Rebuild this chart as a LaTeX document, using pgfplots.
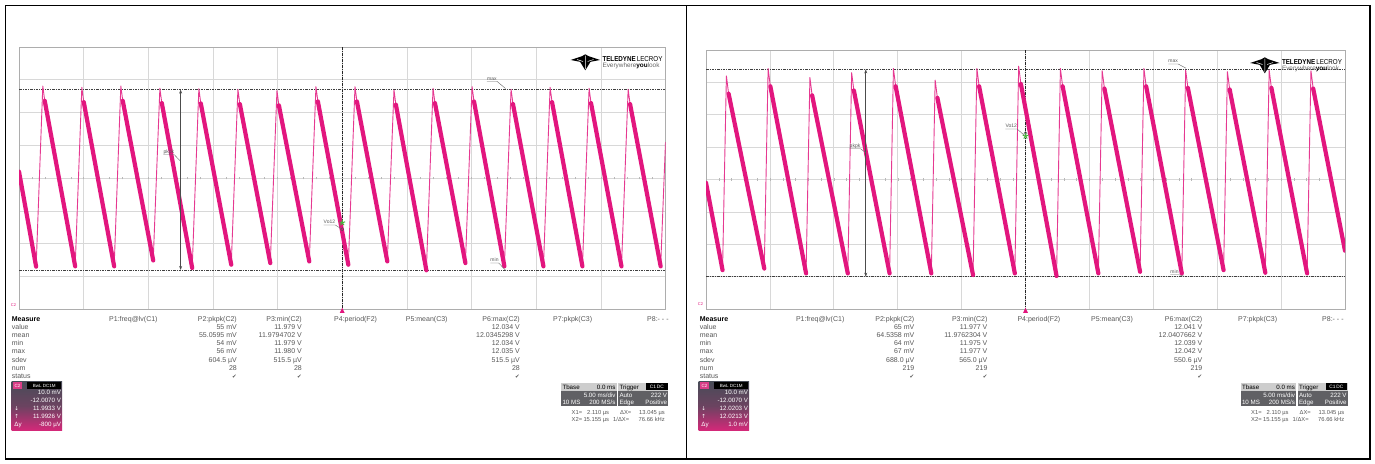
\documentclass[border=0pt]{standalone}
\usepackage{pgfplots}
\pgfplotsset{compat=1.18}
\usepackage{graphicx}
\usepackage{fontspec}
\setmainfont{Liberation Sans}
\newfontfamily\dejavu{DejaVu Sans}
\usetikzlibrary{arrows.meta}

\definecolor{tracepink}{RGB}{226,22,126}
\definecolor{gridgray}{RGB}{216,216,216}
\definecolor{txtgray}{RGB}{88,88,88}
\definecolor{c2dark}{RGB}{72,76,88}
\definecolor{c2pink}{RGB}{214,40,122}
\definecolor{boxlight}{RGB}{205,205,205}
\definecolor{boxdark}{RGB}{96,96,100}
\definecolor{starg}{RGB}{70,180,60}

\pgfplotsset{
  scopegrid/.style={
    scale only axis, xmin=0, xmax=10, ymin=11.967, ymax=12.047,
    xtick={0,1,2,3,4,5,6,7,8,9,10},
    ytick={11.967,11.977,11.987,11.997,12.007,12.017,12.027,12.037,12.047},
    xticklabels={}, yticklabels={},
    major tick length=0pt,
    grid=major,
    grid style={draw=gridgray, line width=0.7pt},
    axis line style={draw=gridgray!80!black, line width=0.8pt},
    unbounded coords=jump,
    clip=true,
  },
  thin trace/.style={tracepink!85!white, line width=0.9pt, line join=round},
  thick trace/.style={tracepink, line width=4.2pt, line join=round, line cap=round},
  levelline/.style={black!75, line width=0.7pt, dash pattern=on 2.5pt off 1.2pt on 0.6pt off 1.2pt},
}

\newcommand{\ck}{{\dejavu\fontsize{5.5}{5.5}\selectfont ✔}}
\newcommand{\mcol}[3]{\foreach \mtxt [count=\i from 0] in {#3}{\node[anchor=base #2, inner sep=0pt, text=txtgray] at (#1,{321.5+8.1*\i}) {\mtxt};}}
\newcommand{\hdr}[2]{\node[anchor=base west, inner sep=0pt, text=txtgray] at (#1,321.5) {#2};}
\newcommand{\ann}[5]{\node[inner sep=0pt, font=\fontsize{5}{5}\selectfont, text=black!65, anchor=base] (a) at (#1,#2) {#3};
  \draw[black!60, line width=0.4pt] ([yshift=-1.2pt]a.base west) -- ([yshift=-1.2pt]a.base east) -- (#4,#5);}
\newcommand{\logo}{%
  \fill[black] (570.7,60) -- (582,56.2) -- (585.3,54.3) -- (588.6,56.2) -- (600,60) -- (590.5,61.8) -- (585.3,70.3) -- (580.1,61.8) -- cycle;
  \draw[white, line width=0.5pt] (585.3,55.5) -- (585.3,69) (577,59.5)--(583,61.5) (593.6,59.5)--(587.6,61.5);
  \node[anchor=base west, inner sep=0pt] at (602.3,61) {\resizebox{60pt}{5pt}{\textbf{TELEDYNE}\,LECROY}};
  \node[anchor=base west, inner sep=0pt, text=black!60] at (602.3,67.2) {\resizebox{57pt}{!}{\fontsize{7}{7}\selectfont Everywhere\textbf{\color{black}you}look}};
}
\newcommand{\cbox}[6]{%
  \begin{scope}[shift={(#1,0)}]
  \shade[top color=c2dark, bottom color=c2pink, middle color=c2dark!75!c2pink] (0,381.3) rectangle (50.5,430.7);
  \fill[c2pink!90!white] (1,382.3) rectangle (10.5,388.6);
  \node[inner sep=0pt, text=white, font=\fontsize{4.5}{4.5}\selectfont] at (5.75,385.5) {C2};
  \fill[black] (15.5,382.3) rectangle (49.7,388.6);
  \node[inner sep=0pt, text=white, font=\fontsize{4.5}{4.5}\selectfont] at (32.6,385.5) {BwL DC1M};
  \begin{scope}[every node/.style={inner sep=0pt, text=white, font=\fontsize{6.2}{7}\selectfont}]
  \node[anchor=base east] at (49.5,394.4) {#2};
  \node[anchor=base east] at (49.5,402.4) {#3};
  \node[anchor=base east] at (49.5,410.4) {#4};
  \node[anchor=base east] at (49.5,418.4) {#5};
  \node[anchor=base east] at (49.5,426.6) {#6};
  \node[anchor=base west] at (2.5,410.4) {{\dejavu\fontsize{5.5}{5.5}\selectfont ↓}};
  \node[anchor=base west] at (2.5,418.4) {{\dejavu\fontsize{5.5}{5.5}\selectfont ↑}};
  \node[anchor=base west] at (2.5,426.6) {Δy};
  \end{scope}
  \end{scope}
}
\newcommand{\tbox}[1]{%
  \begin{scope}[shift={(#1,0)}, every node/.style={inner sep=0pt, font=\fontsize{6.2}{7}\selectfont}]
  \fill[boxlight] (561,382.7) rectangle (616.7,390.5);
  \fill[boxdark] (561,390.5) rectangle (616.7,406);
  \fill[boxlight] (618,382.7) rectangle (668.3,390.5);
  \fill[boxdark] (618,390.5) rectangle (668.3,406);
  \fill[black] (646,383.4) rectangle (667.6,389.8);
  \node[anchor=base west, text=black] at (562.3,389) {Tbase};
  \node[anchor=base east, text=black] at (615.7,389) {0.0 ms};
  \node[anchor=base east, text=white] at (615.7,397) {5.00 ms/div};
  \node[anchor=base west, text=white] at (562.3,404.2) {10 MS};
  \node[anchor=base east, text=white] at (615.7,404.2) {200 MS/s};
  \node[anchor=base west, text=black] at (619.3,389) {Trigger};
  \node[anchor=base, text=white, font=\fontsize{4.8}{5}\selectfont] at (656.8,388.4) {C1\,DC};
  \node[anchor=base west, text=white] at (619.3,397) {Auto};
  \node[anchor=base east, text=white] at (667.3,397) {222 V};
  \node[anchor=base west, text=white] at (619.3,404.2) {Edge};
  \node[anchor=base east, text=white] at (667.3,404.2) {Positive};
  \begin{scope}[every node/.style={inner sep=0pt, font=\fontsize{5.8}{6}\selectfont, text=txtgray}]
  \node[anchor=base west] at (571.5,414) {X1=};
  \node[anchor=base east] at (609.3,414) {2.110 µs};
  \node[anchor=base west] at (620,414) {ΔX=};
  \node[anchor=base east] at (665,414) {13.045 µs};
  \node[anchor=base west] at (571.5,421.5) {X2=};
  \node[anchor=base east] at (609.3,421.5) {15.155 µs};
  \node[anchor=base west] at (613,421.5) {1/ΔX=};
  \node[anchor=base east] at (665,421.5) {76.66 kHz};
  \end{scope}
  \end{scope}
}

\begin{document}
\begin{tikzpicture}
\useasboundingbox (0pt,0pt) rectangle (1375pt,-463pt);
\fill[white] (0pt,0pt) rectangle (1375pt,-463pt);

% ---------------- left screen ----------------
\begin{axis}[scopegrid, at={(19pt,-309.3pt)}, anchor=south west, width=646.5pt, height=262.3pt]
  \pgfplotsinvokeforeach{0.2,0.4,...,9.8}{\draw[gridgray!85!black, line width=0.35pt] (axis cs:#1,12.0066) -- (axis cs:#1,12.0074);}
  \draw[black!85, line width=0.6pt, dash pattern=on 3pt off 1.2pt on 0.6pt off 1.2pt] (axis cs:5,12.047) -- (axis cs:5,11.967);
  \addplot[levelline] coordinates {(0,12.034) (10,12.034)};
  \addplot[levelline] coordinates {(0,11.979) (10,11.979)};
  \addplot[thin trace] coordinates {
    (0,12.009) (0.265,11.9800) (0.368,12.0351) (0.398,12.0306) (0.869,11.9801) (0.972,12.0347) (1.002,12.0302)
    (1.472,11.9801) (1.575,12.0351) (1.605,12.0306) (2.076,11.9819) (2.179,12.0344) (2.209,12.0299)
    (2.679,11.9796) (2.782,12.0343) (2.812,12.0298) (3.283,11.9806) (3.386,12.0341) (3.416,12.0296)
    (3.887,11.9811) (3.990,12.0337) (4.020,12.0292) (4.490,11.9816) (4.593,12.0349) (4.623,12.0304)
    (5.094,11.9806) (5.197,12.0349) (5.227,12.0304) (5.697,11.9816) (5.800,12.0339) (5.830,12.0294)
    (6.301,11.9789) (6.404,12.0344) (6.434,12.0299) (6.905,11.9811) (7.008,12.0349) (7.038,12.0304)
    (7.508,11.9801) (7.611,12.0341) (7.641,12.0296) (8.112,11.9801) (8.215,12.0347) (8.245,12.0302)
    (8.715,11.9801) (8.818,12.0344) (8.848,12.0299) (9.319,11.9801) (9.422,12.0341) (9.452,12.0296)
    (9.925,11.9801) (10,12.018)};
  \addplot[thick trace] coordinates {
    (0,12.009) (0.265,11.9800) (0.3,nan)
    (0.398,12.0306) (0.869,11.9801) (0.9,nan)
    (1.002,12.0302) (1.472,11.9801) (1.5,nan)
    (1.605,12.0306) (2.076,11.9819) (2.1,nan)
    (2.209,12.0299) (2.679,11.9796) (2.7,nan)
    (2.812,12.0298) (3.283,11.9806) (3.3,nan)
    (3.416,12.0296) (3.887,11.9811) (3.9,nan)
    (4.020,12.0292) (4.490,11.9816) (4.5,nan)
    (4.623,12.0304) (5.094,11.9806) (5.1,nan)
    (5.227,12.0304) (5.697,11.9816) (5.7,nan)
    (5.830,12.0294) (6.301,11.9789) (6.3,nan)
    (6.434,12.0299) (6.905,11.9811) (6.95,nan)
    (7.038,12.0304) (7.508,11.9801) (7.55,nan)
    (7.641,12.0296) (8.112,11.9801) (8.15,nan)
    (8.245,12.0302) (8.715,11.9801) (8.75,nan)
    (8.848,12.0299) (9.319,11.9801) (9.35,nan)
    (9.452,12.0296) (9.925,11.9801)};
  \draw[black!70, line width=0.6pt, {Stealth[length=4pt,width=3pt]}-{Stealth[length=4pt,width=3pt]}] (axis cs:2.5,12.034) -- (axis cs:2.5,11.979);
  \addplot[only marks, mark=o, mark size=1.6pt, black!70] coordinates {(5,11.9914)};
  \addplot[only marks, mark=star, mark size=3pt, mark options={draw=starg, line width=1pt}] coordinates {(5,11.9934)};
\end{axis}

% ---------------- right screen ----------------
\begin{axis}[scopegrid, at={(706pt,-309pt)}, anchor=south west, width=639pt, height=259pt]
  \pgfplotsinvokeforeach{0.2,0.4,...,9.8}{\draw[gridgray!85!black, line width=0.35pt] (axis cs:#1,12.0066) -- (axis cs:#1,12.0074);}
  \draw[black!85, line width=0.6pt, dash pattern=on 3pt off 1.2pt on 0.6pt off 1.2pt] (axis cs:5,12.047) -- (axis cs:5,11.967);
  \addplot[levelline] coordinates {(0,12.041) (10,12.041)};
  \addplot[levelline] coordinates {(0,11.977) (10,11.977)};
  \addplot[thin trace] coordinates {
    (0,12.006) (0.259,11.9790) (0.319,12.0390) (0.354,12.0335) (0.912,11.9795) (0.972,12.0413) (1.007,12.0358)
    (1.566,11.9780) (1.626,12.0385) (1.661,12.0330) (2.219,11.9780) (2.279,12.0400) (2.314,12.0345)
    (2.873,11.9780) (2.933,12.0413) (2.968,12.0358) (3.526,11.9780) (3.586,12.0377) (3.621,12.0322)
    (4.179,11.9775) (4.239,12.0413) (4.274,12.0358) (4.833,11.9780) (4.893,12.0420) (4.928,12.0365)
    (5.486,11.9772) (5.546,12.0413) (5.581,12.0358) (6.140,11.9780) (6.200,12.0406) (6.235,12.0351)
    (6.793,11.9785) (6.853,12.0413) (6.888,12.0358) (7.446,11.9780) (7.506,12.0408) (7.541,12.0353)
    (8.100,11.9790) (8.160,12.0403) (8.195,12.0348) (8.753,11.9782) (8.813,12.0408) (8.848,12.0353)
    (9.407,11.9780) (9.467,12.0406) (9.502,12.0351) (10,11.985)};
  \addplot[thick trace] coordinates {
    (0,12.006) (0.259,11.9790) (0.29,nan)
    (0.354,12.0335) (0.912,11.9795) (0.94,nan)
    (1.007,12.0358) (1.566,11.9780) (1.6,nan)
    (1.661,12.0330) (2.219,11.9780) (2.25,nan)
    (2.314,12.0345) (2.873,11.9780) (2.9,nan)
    (2.968,12.0358) (3.526,11.9780) (3.55,nan)
    (3.621,12.0322) (4.179,11.9775) (4.2,nan)
    (4.274,12.0358) (4.833,11.9780) (4.86,nan)
    (4.928,12.0365) (5.486,11.9772) (5.51,nan)
    (5.581,12.0358) (6.140,11.9780) (6.17,nan)
    (6.235,12.0351) (6.793,11.9785) (6.82,nan)
    (6.888,12.0358) (7.446,11.9780) (7.47,nan)
    (7.541,12.0353) (8.100,11.9790) (8.13,nan)
    (8.195,12.0348) (8.753,11.9782) (8.78,nan)
    (8.848,12.0353) (9.407,11.9780) (9.43,nan)
    (9.502,12.0351) (10,11.985)};
  \draw[black!70, line width=0.6pt, {Stealth[length=4pt,width=3pt]}-{Stealth[length=4pt,width=3pt]}] (axis cs:2.5,12.041) -- (axis cs:2.5,11.977);
  \addplot[only marks, mark=o, mark size=1.6pt, black!70] coordinates {(5,12.0213)};
  \addplot[only marks, mark=star, mark size=3pt, mark options={draw=starg, line width=1pt}] coordinates {(5,12.0204)};
\end{axis}

% ---------------- annotations and panels ----------------
\begin{scope}[x=1pt, y=-1pt, font=\fontsize{7}{8}\selectfont]
  \draw[black, line width=1.6pt] (5.5,5.5) rectangle (1370.2,459.2);
  \draw[black, line width=1.6pt] (686.3,5.5) -- (686.3,459.2);

  % cursor feet
  \draw[black, line width=0.6pt] (342.2,309.3) -- (342.2,313);
  \fill[tracepink] (339.8,312.8) -- (344.6,312.8) -- (342.2,307.8) -- cycle;
  \draw[black, line width=0.6pt] (1025.5,309) -- (1025.5,313);
  \fill[tracepink] (1023.1,312.8) -- (1027.9,312.8) -- (1025.5,307.8) -- cycle;
  \node[inner sep=0pt, text=tracepink, font=\fontsize{4}{4}\selectfont] at (13.5,305.5) {C2};
  \node[inner sep=0pt, text=tracepink, font=\fontsize{4}{4}\selectfont] at (700.5,304.5) {C2};

  % labels on the screens
  \ann{491.9}{80}{max}{505.5}{88.5}
  \ann{494.5}{261.8}{min}{505.7}{270.5}
  \ann{168.8}{153.5}{pkpk}{180.3}{161}
  \ann{329.4}{223.8}{Vo12}{341.5}{229}
  \ann{1173.2}{62.8}{max}{1186}{68.2}
  \ann{1174.5}{273.5}{min}{1184}{276.2}
  \ann{855}{147.5}{pkpk}{865.5}{152.5}
  \ann{1011.2}{127.8}{Vo12}{1024}{135}

  % logos
  \logo
  \begin{scope}[shift={(679.5,3)}]\logo\end{scope}

  % measure tables, left
  \mcol{11.7}{west}{{\textbf{\color{black}Measure}},value,mean,min,max,sdev,num,status}
  \hdr{109}{P1:freq@lv(C1)}
  \mcol{237}{east}{P2:pkpk(C2),55 mV,55.0595 mV,54 mV,56 mV,604.5 µV,28,\ck}
  \mcol{302}{east}{P3:min(C2),11.979 V,11.9794702 V,11.979 V,11.980 V,515.5 µV,28,\ck}
  \hdr{334}{P4:period(F2)}
  \hdr{405.7}{P5:mean(C3)}
  \mcol{520}{east}{P6:max(C2),12.034 V,12.0345298 V,12.034 V,12.035 V,515.5 µV,28,\ck}
  \hdr{553}{P7:pkpk(C3)}
  \hdr{647}{P8:- - -}

  % measure tables, right
  \mcol{699.6}{west}{{\textbf{\color{black}Measure}},value,mean,min,max,sdev,num,status}
  \hdr{795.8}{P1:freq@lv(C1)}
  \mcol{914.5}{east}{P2:pkpk(C2),65 mV,64.5358 mV,64 mV,67 mV,688.0 µV,219,\ck}
  \mcol{987.6}{east}{P3:min(C2),11.977 V,11.9762304 V,11.975 V,11.977 V,565.0 µV,219,\ck}
  \hdr{1017.3}{P4:period(F2)}
  \hdr{1091}{P5:mean(C3)}
  \mcol{1202.5}{east}{P6:max(C2),12.041 V,12.0407662 V,12.039 V,12.042 V,550.6 µV,219,\ck}
  \hdr{1238}{P7:pkpk(C3)}
  \hdr{1322}{P8:- - -}

  % channel boxes
  \cbox{11.7}{10.0 mV}{-12.0070 V}{11.9933 V}{11.9926 V}{-800 µV}
  \cbox{698.7}{10.0 mV}{-12.0070 V}{12.0203 V}{12.0213 V}{1.0 mV}

  % timebase / trigger boxes
  \tbox{0}
  \tbox{679.5}
\end{scope}
\end{tikzpicture}
\end{document}
